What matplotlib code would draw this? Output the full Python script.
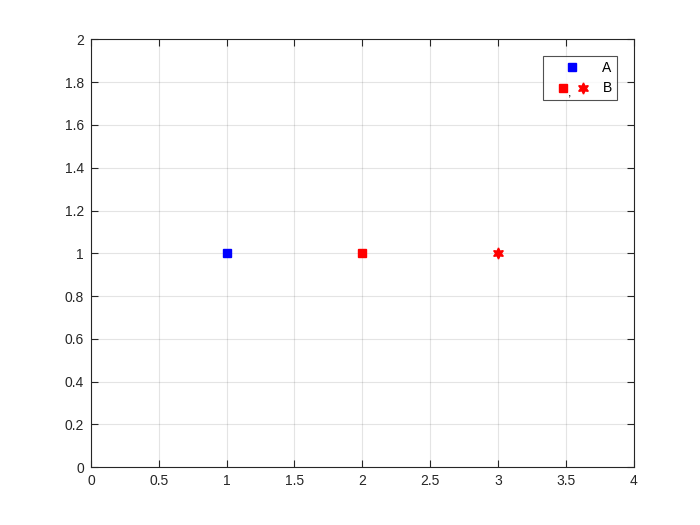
import matplotlib
matplotlib.use("Agg")
import matplotlib.pyplot as plt
from matplotlib.lines import Line2D
from matplotlib.text import Text
from matplotlib.legend_handler import HandlerBase

plt.rcParams['font.family'] = ['Liberation Sans', 'DejaVu Sans']

a_x = [1]
a_y = [1]
b_sq_x = [2]
b_sq_y = [1]
b_hex_x = [3]
b_hex_y = [1]
x_ticks = [0, 0.5, 1, 1.5, 2, 2.5, 3, 3.5, 4]
y_ticks = [0, 0.2, 0.4, 0.6, 0.8, 1, 1.2, 1.4, 1.6, 1.8, 2]

fig = plt.figure(figsize=(7, 5.25), dpi=100)
ax = fig.add_axes([0.13, 0.11, 0.775, 0.815])

hexagram = (6, 1, 0)
la, = ax.plot(a_x, a_y, linestyle='none', marker='s', color='blue', markersize=6)
lb1, = ax.plot(b_sq_x, b_sq_y, linestyle='none', marker='s', color='red', markersize=6)
lb2, = ax.plot(b_hex_x, b_hex_y, linestyle='none', marker=hexagram, color='red', markersize=8)

ax.set_xlim(0, 4)
ax.set_ylim(0, 2)
ax.set_xticks(x_ticks)
ax.set_yticks(y_ticks)
ax.set_xticklabels([f"{t:g}" for t in x_ticks])
ax.set_yticklabels([f"{t:g}" for t in y_ticks])
ax.grid(True, color=(0.15, 0.15, 0.15), alpha=0.12, linewidth=0.8)
ax.set_axisbelow(True)
for s in ax.spines.values():
    s.set_color((0.15, 0.15, 0.15))
    s.set_linewidth(0.8)
ax.tick_params(direction='in', length=5, width=0.8, colors=(0.15, 0.15, 0.15),
               labelsize=10, top=True, right=True, labelcolor=(0.15, 0.15, 0.15), pad=5)


class PairHandler(HandlerBase):
    def create_artists(self, legend, orig_handle, xdescent, ydescent, width, height, fontsize, trans):
        sq, hx = orig_handle
        y = height / 2 - ydescent
        m1 = Line2D([width * 0.33], [y], linestyle='none', marker='s', color='red', markersize=6, transform=trans)
        c = Text(width * 0.46, y - 4, ',', fontsize=9, color='black', ha='center', va='center', transform=trans)
        m2 = Line2D([width * 0.73], [y], linestyle='none', marker=hexagram, color='red', markersize=8, transform=trans)
        return [m1, c, m2]


class SingleHandler(HandlerBase):
    def create_artists(self, legend, orig_handle, xdescent, ydescent, width, height, fontsize, trans):
        y = height / 2 - ydescent
        m = Line2D([width * 0.52], [y], linestyle='none', marker='s', color='blue', markersize=6, transform=trans)
        return [m]


leg = ax.legend([la, (lb1, lb2)], ['A', 'B'],
                handler_map={Line2D: SingleHandler(), tuple: PairHandler()},
                loc='upper right', bbox_to_anchor=(0.9687, 0.961), fontsize=10,
                frameon=True, fancybox=False, edgecolor=(0.15, 0.15, 0.15),
                handlelength=3.45, handletextpad=0.5, borderpad=0.35, labelspacing=0.47,
                borderaxespad=0)
leg.get_frame().set_linewidth(0.8)

fig.savefig('out.png', dpi=100)
